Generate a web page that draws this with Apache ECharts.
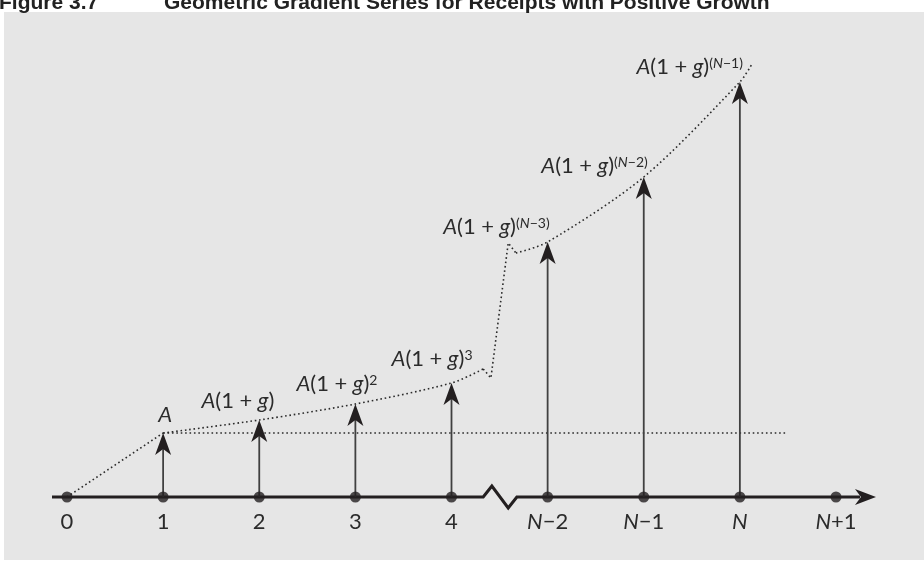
<!DOCTYPE html>
<html>
<head>
<meta charset="utf-8">
<script src="https://cdn.jsdelivr.net/npm/echarts@6/dist/echarts.min.js"></script>
<style>html,body{margin:0;padding:0;background:#fff}#c{width:924px;height:561px}</style>
</head>
<body>
<div id="c"></div>
<script>
// ---- data ----
const periodX = [0, 1, 2, 3, 4, 5, 6, 7, 8];
const tickLabels = ['0', '1', '2', '3', '4', '{i|N}\u22122', '{i|N}\u22121', '{i|N}', '{i|N}+1'];
const arrowX = [1, 2, 3, 4, 5, 6, 7];
const arrowValues = [64, 77, 93, 114, 255, 320, 415];
const arrowLabels = [
  '{i|A}',
  '{i|A}(1\u202F+\u202F{i|g})',
  '{i|A}(1\u202F+\u202F{i|g}){s|2}',
  '{i|A}(1\u202F+\u202F{i|g}){s|3}',
  '{i|A}(1\u202F+\u202F{i|g}){s|(}{si|N}{s|\u22123)}',
  '{i|A}(1\u202F+\u202F{i|g}){s|(}{si|N}{s|\u22122)}',
  '{i|A}(1\u202F+\u202F{i|g}){s|(}{si|N}{s|\u22121)}'
];
const curveLow = [[0, 0], [1, 64]];
const curveMid = [[1, 64], [2, 77], [3, 93], [4, 114], [4.33, 128]];
const curveHook = [[4.33, 128], [4.41, 119], [4.59, 254], [4.67, 244]];
const curveHigh = [[4.67, 244], [5, 255], [6, 320], [7, 415], [7.12, 432]];
const baseLevel = [[1, 64], [7.48, 64]];
const axisPath = [[-0.156, 0], [4.33, 0], [4.42, 11], [4.59, -11], [4.68, 0], [8.25, 0]];
const axisArrowTip = [8.416, 0];
const titleNumber = 'Figure 3.7';
const titleText = 'Geometric Gradient Series for Receipts with Positive Growth';

// ---- layout (label offsets in px relative to arrow tip) ----
const labelOffsets = [[2, -7, 'center'], [15, -8, 'right'], [22, -9, 'right'], [21, -13, 'right'], [2, -4, 'right'], [4, 0, 'right'], [3, -4, 'right']];

const FONT = 'Lato';
const ink = '#231f20';
const txt = '#2b2b2b';
const rich = {
  i: {fontStyle: 'italic', fontSize: 22, fontFamily: FONT, fill: txt, color: txt},
  s: {fontSize: 14, fontFamily: FONT, verticalAlign: 'top', fill: txt, color: txt},
  si: {fontSize: 14, fontStyle: 'italic', fontFamily: FONT, verticalAlign: 'top', fill: txt, color: txt}
};

const chart = echarts.init(document.getElementById('c'));

const dotted = {color: '#2b2b2b', width: 1.6, type: [1.6, 2.8]};

function lineSeries(data, smooth) {
  return {type: 'line', data: data, smooth: smooth || false, symbol: 'none', clip: false,
    lineStyle: dotted, z: 3, silent: true, animation: false};
}

const titleFont = 'bold 21px "Liberation Sans", Arial, sans-serif';

const option = {
  backgroundColor: '#ffffff',
  animation: false,
  grid: {left: 67, right: 88, top: 25, bottom: 0},
  xAxis: {type: 'value', min: 0, max: 8, show: false},
  yAxis: {type: 'value', min: -64, max: 472, show: false},
  graphic: [
    {type: 'rect', z: -10, shape: {x: 4, y: 12, width: 920, height: 548}, style: {fill: '#e6e6e6'}},
    {type: 'text', z: -5, x: -1, y: 14, style: {text: titleNumber, font: titleFont, fill: '#222', verticalAlign: 'bottom'}},
    {type: 'text', z: -5, x: 164, y: 14, style: {text: titleText, font: titleFont, fill: '#222', verticalAlign: 'bottom'}}
  ],
  series: [
    lineSeries(curveLow),
    lineSeries(curveMid, 0.3),
    lineSeries(curveHook),
    lineSeries(curveHigh, 0.3),
    lineSeries(baseLevel),
    {
      type: 'custom', clip: false, z: 4, silent: true,
      data: [0],
      renderItem: function (params, api) {
        const pts = axisPath.map(p => api.coord(p));
        const tip = api.coord(axisArrowTip);
        return {type: 'group', children: [
          {type: 'polyline', shape: {points: pts}, style: {stroke: ink, lineWidth: 3, fill: null}},
          {type: 'polygon', shape: {points: [[tip[0], tip[1]], [tip[0] - 21, tip[1] - 8], [tip[0] - 15, tip[1]], [tip[0] - 21, tip[1] + 8]]}, style: {fill: ink}}
        ]};
      }
    },
    {
      type: 'custom', clip: false, z: 5, silent: true,
      data: arrowX.map((x, i) => [x, arrowValues[i]]),
      renderItem: function (params, api) {
        const x = api.value(0), v = api.value(1);
        const b = api.coord([x, 0]);
        const t = api.coord([x, v]);
        const hw = 8, hl = 22, notch = 6;
        const off = labelOffsets[params.dataIndex];
        return {type: 'group', children: [
          {type: 'line', shape: {x1: b[0], y1: b[1], x2: t[0], y2: t[1] + hl - notch}, style: {stroke: '#404040', lineWidth: 1.8}},
          {type: 'polygon', shape: {points: [[t[0], t[1]], [t[0] - hw, t[1] + hl], [t[0], t[1] + hl - notch], [t[0] + hw, t[1] + hl]]}, style: {fill: ink}},
          {type: 'text', x: t[0] + off[0], y: t[1] + off[1], style: {
            text: arrowLabels[params.dataIndex], fontSize: 22, fontFamily: FONT, fill: txt,
            align: off[2], verticalAlign: 'bottom', rich: rich}}
        ]};
      }
    },
    {
      type: 'scatter', z: 6, silent: true,
      data: periodX.map(x => [x, 0]),
      symbol: 'circle', symbolSize: 11,
      itemStyle: {color: ink}
    },
    {
      type: 'custom', clip: false, z: 6, silent: true,
      data: periodX.map((x, i) => [x, 0]),
      renderItem: function (params, api) {
        const p = api.coord([api.value(0), 0]);
        return {type: 'text', x: p[0], y: p[1] + 14, style: {
          text: tickLabels[params.dataIndex], fontSize: 22, fontFamily: FONT, fill: txt,
          align: 'center', verticalAlign: 'top',
          rich: {i: {fontStyle: 'italic', fontSize: 22, fontFamily: FONT, fill: txt}}}};
      }
    }
  ]
};
chart.setOption(option);
</script>
</body>
</html>
